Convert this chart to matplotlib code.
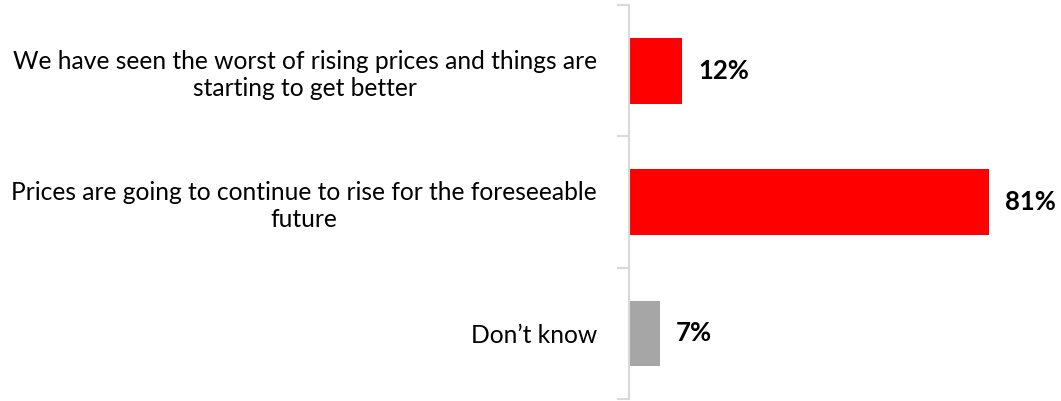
import matplotlib
matplotlib.use("Agg")
import matplotlib.pyplot as plt
import numpy as np

categories = [
    "We have seen the worst of rising prices and things are\nstarting to get better",
    "Prices are going to continue to rise for the foreseeable\nfuture",
    "Don\u2019t know",
]
values = [12, 81, 7]
bar_colors = ["#ff0000", "#ff0000", "#a6a6a6"]

plt.rcParams["font.family"] = ["Lato", "DejaVu Sans"]

fig = plt.figure(figsize=(10.61, 4.01), dpi=100)
ax = fig.add_axes([629 / 1061, 2 / 401, 409 / 1061, 394 / 401])

pos = np.arange(len(categories))
ax.barh(pos, values, height=0.5, color=bar_colors)

for y, v in zip(pos, values):
    ax.text(v + 3.5, y, f"{v}%", va="center", ha="left",
            fontsize=18.5, fontweight="bold", color="black")

ax.set_xlim(0, 92)
ax.set_ylim(2.5, -0.5)

ax.set_yticks(pos)
ax.set_yticklabels(categories, fontsize=17.7, multialignment="center",
                   linespacing=1.22)
ax.tick_params(axis="y", which="major", length=0, pad=23)
ax.set_yticks(np.arange(-0.5, len(categories)), minor=True)
ax.tick_params(axis="y", which="minor", length=9, width=1.5, color="#d9d9d9")

ax.set_xticks([])
for side in ["top", "right", "bottom"]:
    ax.spines[side].set_visible(False)
ax.spines["left"].set_color("#d9d9d9")
ax.spines["left"].set_linewidth(1.5)

fig.savefig("out.png", dpi=100)
